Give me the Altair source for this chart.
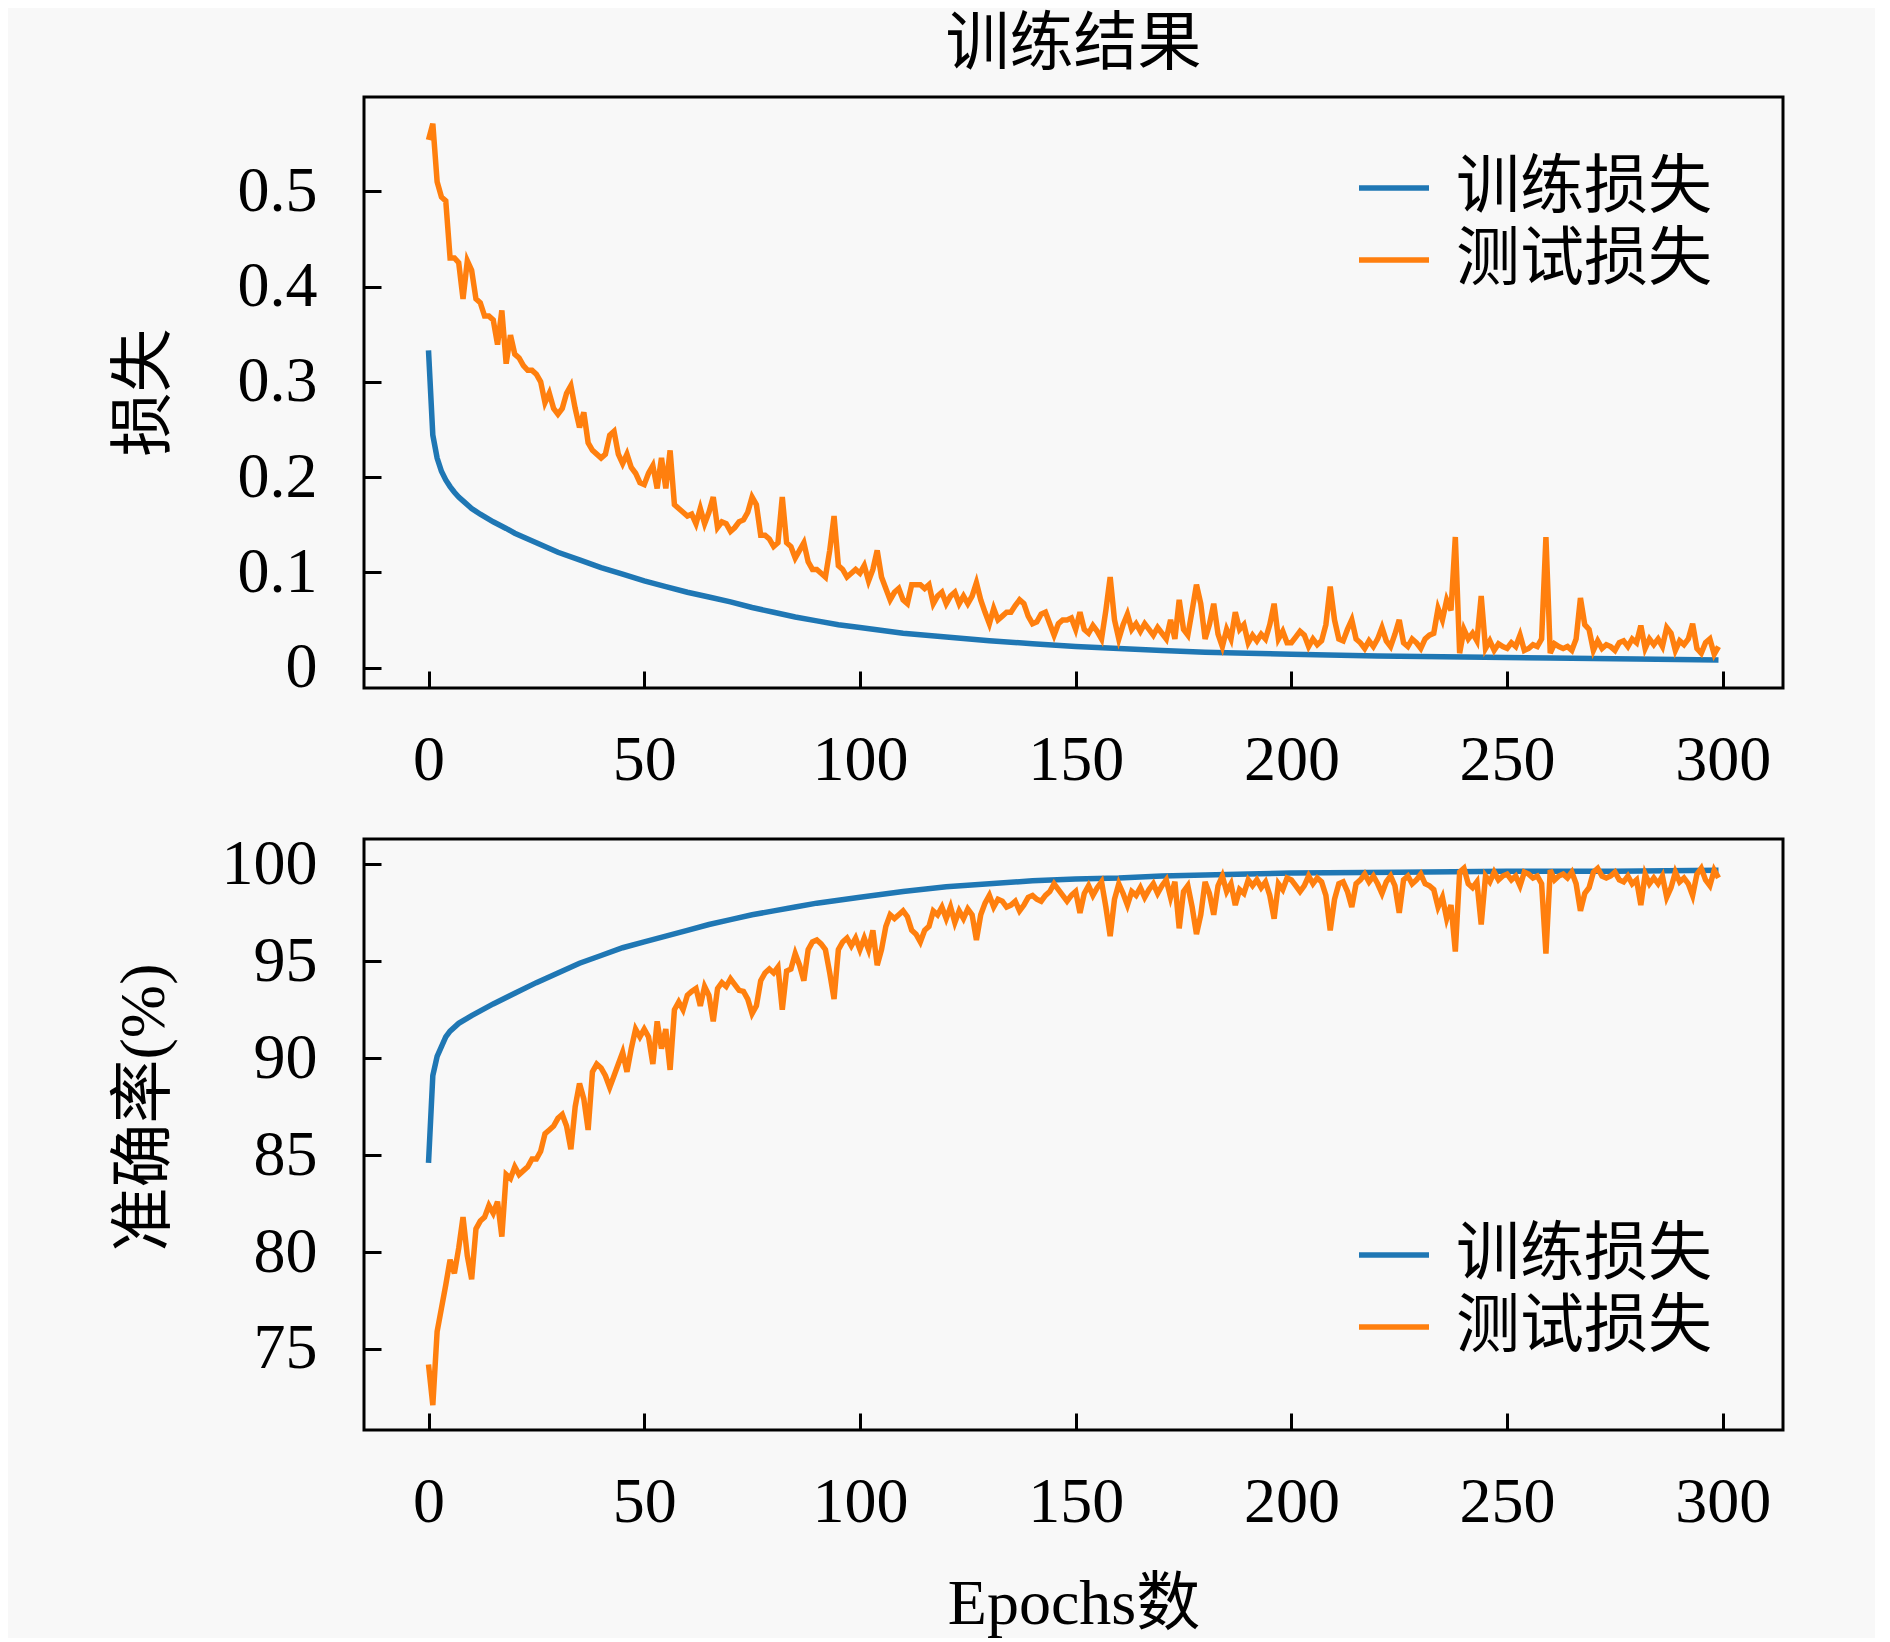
import altair as alt
import pandas as pd

# ---------------- data ----------------
series_names = ["训练损失", "测试损失"]
series_colors = ["#1f77b4", "#ff7f0e"]
x_ticks = [0, 50, 100, 150, 200, 250, 300]
loss_ticks = [0, 0.1, 0.2, 0.3, 0.4, 0.5]
acc_ticks = [75, 80, 85, 90, 95, 100]

test_epochs = list(range(300))

test_loss = [
    0.554, 0.571, 0.510, 0.494, 0.490, 0.430, 0.430, 0.425, 0.387, 0.427,
    0.417, 0.387, 0.383, 0.369, 0.369, 0.365, 0.339, 0.375, 0.319, 0.349,
    0.329, 0.325, 0.317, 0.312, 0.312, 0.308, 0.300, 0.278, 0.288, 0.272,
    0.266, 0.272, 0.288, 0.296, 0.272, 0.252, 0.268, 0.236, 0.228, 0.224,
    0.220, 0.224, 0.244, 0.248, 0.224, 0.214, 0.224, 0.210, 0.204, 0.194,
    0.192, 0.204, 0.212, 0.188, 0.220, 0.188, 0.228, 0.171, 0.167, 0.163,
    0.159, 0.161, 0.151, 0.167, 0.151, 0.163, 0.179, 0.147, 0.153, 0.151,
    0.143, 0.147, 0.153, 0.155, 0.163, 0.179, 0.171, 0.139, 0.139, 0.135,
    0.127, 0.131, 0.179, 0.131, 0.127, 0.115, 0.123, 0.131, 0.111, 0.103,
    0.103, 0.099, 0.095, 0.123, 0.159, 0.107, 0.103, 0.095, 0.099, 0.103,
    0.099, 0.107, 0.091, 0.103, 0.123, 0.095, 0.083, 0.071, 0.079, 0.083,
    0.071, 0.067, 0.087, 0.087, 0.087, 0.083, 0.087, 0.067, 0.075, 0.079,
    0.067, 0.075, 0.079, 0.067, 0.075, 0.067, 0.075, 0.089, 0.071, 0.058,
    0.046, 0.062, 0.050, 0.054, 0.058, 0.058, 0.065, 0.071, 0.067, 0.054,
    0.046, 0.048, 0.056, 0.058, 0.046, 0.034, 0.046, 0.050, 0.050, 0.052,
    0.040, 0.058, 0.040, 0.036, 0.044, 0.038, 0.030, 0.060, 0.095, 0.050,
    0.030, 0.045, 0.056, 0.040, 0.046, 0.038, 0.046, 0.040, 0.034, 0.042,
    0.036, 0.030, 0.050, 0.030, 0.071, 0.040, 0.034, 0.060, 0.087, 0.067,
    0.030, 0.045, 0.067, 0.035, 0.022, 0.040, 0.030, 0.058, 0.040, 0.045,
    0.026, 0.034, 0.028, 0.035, 0.030, 0.045, 0.067, 0.030, 0.038, 0.026,
    0.026, 0.032, 0.038, 0.034, 0.022, 0.030, 0.024, 0.028, 0.045, 0.085,
    0.050, 0.030, 0.028, 0.040, 0.050, 0.030, 0.026, 0.020, 0.028, 0.022,
    0.030, 0.042, 0.028, 0.022, 0.035, 0.050, 0.026, 0.022, 0.030, 0.026,
    0.020, 0.030, 0.034, 0.036, 0.062, 0.050, 0.071, 0.060, 0.137, 0.015,
    0.040, 0.030, 0.036, 0.028, 0.075, 0.020, 0.028, 0.018, 0.025, 0.022,
    0.020, 0.026, 0.022, 0.034, 0.018, 0.020, 0.024, 0.022, 0.030, 0.137,
    0.015, 0.025, 0.022, 0.020, 0.022, 0.018, 0.030, 0.073, 0.045, 0.040,
    0.018, 0.028, 0.020, 0.024, 0.022, 0.018, 0.026, 0.028, 0.022, 0.030,
    0.026, 0.044, 0.020, 0.030, 0.024, 0.030, 0.022, 0.042, 0.036, 0.018,
    0.028, 0.024, 0.030, 0.046, 0.020, 0.015, 0.026, 0.030, 0.014, 0.022,
]

train_loss_epochs = [0, 1, 2, 3, 4, 5, 6, 7, 8, 10, 12, 15, 18, 20, 25, 30, 35,
                     40, 45, 50, 55, 60, 65, 70, 75, 80, 85, 90, 95, 100, 110,
                     120, 130, 140, 150, 160, 170, 180, 190, 200, 220, 240,
                     260, 280, 299]
train_loss = [0.333, 0.244, 0.220, 0.206, 0.197, 0.190, 0.184, 0.179, 0.175,
              0.167, 0.161, 0.153, 0.146, 0.141, 0.131, 0.121, 0.113, 0.105,
              0.098, 0.091, 0.085, 0.079, 0.074, 0.069, 0.063, 0.058, 0.053,
              0.049, 0.045, 0.042, 0.036, 0.032, 0.028, 0.025, 0.022, 0.020,
              0.018, 0.016, 0.015, 0.014, 0.012, 0.011, 0.010, 0.009, 0.008]

train_acc_epochs = [0, 1, 2, 3, 4, 5, 7, 10, 15, 20, 25, 30, 35, 40, 45, 50,
                    55, 60, 65, 70, 75, 80, 85, 90, 95, 100, 110, 120, 130,
                    140, 150, 160, 170, 180, 190, 200, 225, 250, 275, 299]
train_acc = [84.6, 89.1, 90.1, 90.6, 91.1, 91.4, 91.8, 92.2, 92.8, 93.35, 93.9,
             94.4, 94.9, 95.3, 95.7, 96.0, 96.3, 96.6, 96.9, 97.15, 97.4, 97.6,
             97.8, 98.0, 98.15, 98.3, 98.6, 98.85, 99.0, 99.15, 99.25, 99.3,
             99.4, 99.45, 99.5, 99.55, 99.6, 99.65, 99.65, 99.7]

test_acc = [
    74.2, 72.1, 75.9, 77.1, 78.3, 79.6, 78.9, 80.2, 81.8, 79.8,
    78.6, 81.2, 81.6, 81.8, 82.4, 82.0, 82.6, 80.8, 84.0, 83.8,
    84.4, 84.0, 84.2, 84.4, 84.8, 84.8, 85.2, 86.1, 86.3, 86.5,
    86.9, 87.1, 86.5, 85.3, 87.5, 88.7, 87.9, 86.3, 89.3, 89.7,
    89.5, 89.1, 88.5, 89.1, 89.7, 90.3, 89.3, 90.5, 91.5, 91.1,
    91.5, 91.1, 89.7, 91.9, 90.5, 91.5, 89.4, 92.5, 92.9, 92.5,
    93.25, 93.45, 93.6, 92.7, 93.7, 93.25, 91.9, 93.6, 93.9, 93.7,
    94.1, 93.8, 93.5, 93.45, 93.05, 92.3, 92.7, 94.0, 94.4, 94.6,
    94.4, 94.7, 92.5, 94.5, 94.6, 95.4, 94.8, 94.0, 95.6, 96.0,
    96.1, 95.9, 95.6, 94.4, 93.05, 95.6, 96.0, 96.2, 95.8, 96.2,
    95.6, 96.2, 95.6, 96.6, 94.8, 95.6, 96.8, 97.4, 97.2, 97.4,
    97.6, 97.3, 96.6, 96.4, 96.0, 96.6, 96.8, 97.6, 97.4, 97.8,
    97.2, 97.8, 97.0, 97.6, 97.2, 97.7, 97.4, 96.1, 97.4, 98.0,
    98.4, 97.8, 98.2, 98.1, 97.8, 97.9, 98.1, 97.6, 97.9, 98.3,
    98.4, 98.2, 98.1, 98.4, 98.6, 99.0, 98.7, 98.4, 98.1, 98.4,
    98.6, 97.5, 98.5, 98.9, 98.4, 98.8, 99.1, 97.8, 96.3, 98.2,
    99.0, 98.5, 97.9, 98.6, 98.4, 98.8, 98.3, 98.7, 99.0, 98.5,
    98.9, 99.2, 98.3, 99.1, 96.7, 98.6, 98.9, 97.8, 96.4, 97.4,
    99.1, 98.5, 97.4, 98.9, 99.4, 98.6, 99.0, 97.9, 98.7, 98.5,
    99.2, 98.9, 99.2, 98.8, 99.1, 98.4, 97.2, 99.0, 98.7, 99.3,
    99.2, 98.9, 98.6, 98.9, 99.4, 99.0, 99.3, 99.1, 98.4, 96.6,
    98.2, 99.0, 99.1, 98.6, 97.8, 99.0, 99.2, 99.5, 99.1, 99.4,
    99.0, 98.5, 99.1, 99.4, 98.9, 97.5, 99.2, 99.4, 99.0, 99.2,
    99.5, 99.0, 98.9, 98.7, 97.8, 98.3, 97.2, 97.9, 95.5, 99.6,
    99.8, 99.0, 98.8, 99.1, 96.9, 99.4, 99.1, 99.6, 99.2, 99.4,
    99.5, 99.2, 99.4, 98.9, 99.6, 99.5, 99.3, 99.4, 99.0, 95.4,
    99.7, 99.2, 99.4, 99.5, 99.3, 99.6, 99.0, 97.6, 98.5, 98.8,
    99.6, 99.8, 99.4, 99.3, 99.4, 99.6, 99.2, 99.1, 99.4, 99.0,
    99.2, 97.9, 99.5, 99.0, 99.3, 99.0, 99.4, 98.3, 98.8, 99.6,
    99.1, 99.3, 99.0, 98.4, 99.5, 99.8, 99.2, 98.9, 99.7, 99.3,
]

# ---------------- styling ----------------
TXT_FONT = "Liberation Serif, Noto Sans CJK SC"
BG = "#f8f8f8"
W, H = 1419, 591
FS = 64
LW = 5.5

x_scale = alt.Scale(domain=[-14.95, 313.95], nice=False, zero=False)
loss_scale = alt.Scale(domain=[-0.0215, 0.599], nice=False, zero=False)
acc_scale = alt.Scale(domain=[70.82, 101.31], nice=False, zero=False)
color_scale = alt.Scale(domain=series_names, range=series_colors)


def x_axis(title, title_pad):
    return alt.Axis(values=x_ticks, format="d", grid=False, domain=False,
                    offset=-17, tickSize=17, tickWidth=3, tickColor="black",
                    labelFont=TXT_FONT, labelFontSize=FS, labelColor="black",
                    labelPadding=40, labelFlush=False, labelOverlap=False,
                    title=title, titleFont=TXT_FONT, titleFontSize=FS,
                    titleFontWeight="normal", titleColor="black",
                    titlePadding=title_pad)


def y_axis(values, fmt, title, title_y):
    return alt.Axis(values=values, format=fmt, grid=False, domain=False,
                    offset=-17, tickSize=17, tickWidth=3, tickColor="black",
                    labelFont=TXT_FONT, labelFontSize=FS, labelColor="black",
                    labelPadding=47, labelOverlap=False,
                    title=title, titleFont=TXT_FONT, titleFontSize=FS,
                    titleFontWeight="normal", titleColor="black",
                    titleX=-237, titleY=title_y, titleBaseline="middle")


def legend(ly):
    return alt.Legend(orient="none", legendX=992, legendY=ly, title=None,
                      symbolType="stroke", symbolSize=4900,
                      symbolStrokeWidth=LW, labelFont=TXT_FONT,
                      labelFontSize=FS, labelColor="black", labelOffset=24,
                      labelLimit=500, rowPadding=2, padding=0)


def panel(train_df, test_df, y_scale, y_ax, leg, x_ax):
    base_x = alt.X("epoch:Q", scale=x_scale, axis=x_ax)
    color = alt.Color("series:N", scale=color_scale, legend=leg)
    tr = alt.Chart(train_df).mark_line(strokeWidth=LW).encode(
        x=base_x, y=alt.Y("value:Q", scale=y_scale, axis=y_ax), color=color)
    te = alt.Chart(test_df).mark_line(strokeWidth=LW).encode(
        x=base_x, y=alt.Y("value:Q", scale=y_scale, axis=y_ax), color=color)
    return alt.layer(tr, te).properties(width=W, height=H)


loss_train_df = pd.DataFrame({"epoch": train_loss_epochs, "value": train_loss,
                              "series": series_names[0]})
loss_test_df = pd.DataFrame({"epoch": test_epochs, "value": test_loss,
                             "series": series_names[1]})
acc_train_df = pd.DataFrame({"epoch": train_acc_epochs, "value": train_acc,
                             "series": series_names[0]})
acc_test_df = pd.DataFrame({"epoch": test_epochs, "value": test_acc,
                            "series": series_names[1]})

top = panel(loss_train_df, loss_test_df, loss_scale,
            y_axis(loss_ticks, ".1~f", "损失", 295), legend(53),
            x_axis(None, 42)).properties(
    title=alt.TitleParams("训练结果", font=TXT_FONT, fontSize=FS,
                          fontWeight="normal", color="black", anchor="middle",
                          frame="group", offset=20))
bottom = panel(acc_train_df, acc_test_df, acc_scale,
               y_axis(acc_ticks, "d", "准确率(%)", 268), legend(378),
               x_axis("Epochs数", 38))

chart = alt.vconcat(top, bottom, spacing=36).resolve_scale(
    color="independent").resolve_legend(color="independent").properties(
    background=BG,
    padding={"left": 102, "top": 3, "right": 90, "bottom": 0},
).configure_view(fill=BG, stroke="black", strokeWidth=3)

chart.save("out.html", embed_options={"renderer": "svg", "actions": False})
